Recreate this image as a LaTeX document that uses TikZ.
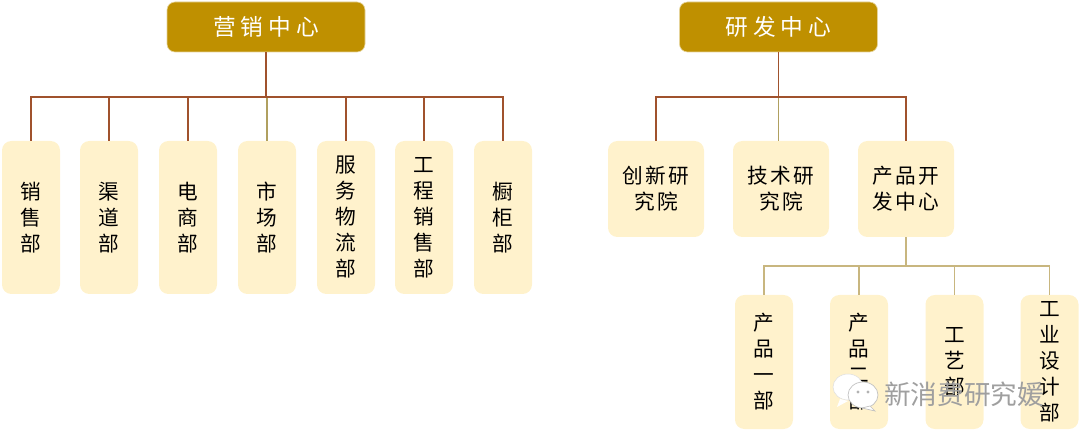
\documentclass[tikz,border=0pt]{standalone}
\usepackage{fontspec}
\newfontfamily\cjk[LetterSpace=12]{Noto Sans CJK SC}
\newfontfamily\cjkwide[LetterSpace=22]{Noto Sans CJK SC}
\newfontfamily\cjkmark{Noto Sans CJK SC}
\definecolor{OrgGold}{RGB}{191,144,0}
\definecolor{OrgCream}{RGB}{255,242,204}
\definecolor{OrgBrown}{RGB}{160,82,45}
\definecolor{OrgOlive}{RGB}{176,160,96}
\definecolor{OrgTan}{RGB}{200,182,127}
\usetikzlibrary{
    positioning,
    calc,
}
\tikzset{
    headbox/.style={fill=OrgGold, draw=OrgGold!40, line width=0.5pt, rounded corners=6pt, minimum width=148.5pt, minimum height=37.5pt, inner sep=0pt, text=white, font=\cjkwide\fontsize{17}{20}\selectfont},
    tallbox/.style={fill=OrgCream, rounded corners=7pt, minimum width=43.5pt, inner sep=0pt, align=center, text=black, font=\cjk\fontsize{15.5}{19.5}\selectfont},
    squarebox/.style={tallbox, minimum width=72pt, minimum height=72pt},
    mainline/.style={OrgBrown, line width=1pt},
    oliveline/.style={OrgOlive, line width=1pt},
    tanline/.style={OrgTan, line width=1pt},
}

\begin{document}
\begin{tikzpicture}[x=0.75pt, y=-0.75pt]
        \useasboundingbox (0,0) rectangle (1080,441);
        % marketing side
        \node[headbox] (mkt) at (266,27) {营销中心};
        \node[tallbox, minimum height=114.75pt] (sales) at (31,217.5) {销\\售\\部};
        \node[tallbox, minimum height=114.75pt] (channel) at (109,217.5) {渠\\道\\部};
        \node[tallbox, minimum height=114.75pt] (online) at (188,217.5) {电\\商\\部};
        \node[tallbox, minimum height=114.75pt] (market) at (267,217.5) {市\\场\\部};
        \node[tallbox, minimum height=114.75pt] (service) at (346,217.5) {服\\务\\物\\流\\部};
        \node[tallbox, minimum height=114.75pt] (project) at (424,217.5) {工\\程\\销\\售\\部};
        \node[tallbox, minimum height=114.75pt] (cabinet) at (503,217.5) {橱\\柜\\部};
        \coordinate (mktbus) at (266,97);
        \draw[oliveline] (mktbus) -| (market.north);
        \draw[mainline] (mkt.south) -- (mktbus);
        \draw[mainline] (mktbus) -| (sales.north);
        \draw[mainline] (mktbus) -| (channel.north);
        \draw[mainline] (mktbus) -| (online.north);
        \draw[mainline] (mktbus) -| (service.north);
        \draw[mainline] (mktbus) -| (project.north);
        \draw[mainline] (mktbus) -| (cabinet.north);
        % research side
        \node[headbox] (rnd) at (778.5,27) {研发中心};
        \node[squarebox] (innov) at (656,189) {创新研\\究院};
        \node[squarebox] (tech) at (781,189) {技术研\\究院};
        \node[squarebox] (prod) at (906,189) {产品开\\发中心};
        \coordinate (rndbus) at (778.5,97);
        \draw[oliveline] (rndbus) -- (tech.north -| rndbus);
        \draw[mainline, line width=1.4pt] (rnd.south) -- (rndbus);
        \draw[mainline] (rndbus) -| (innov.north);
        \draw[mainline] (rndbus) -| (prod.north);
        % product departments
        \node[tallbox, minimum height=100.5pt] (prodone) at (764,362) {产\\品\\一\\部};
        \node[tallbox, minimum height=100.5pt] (prodtwo) at (859,362) {产\\品\\二\\部};
        \node[tallbox, minimum height=100.5pt] (craft) at (954.5,362) {工\\艺\\部};
        \node[tallbox, minimum height=100.5pt] (design) at (1049.5,362) {工\\业\\设\\计\\部};
        \coordinate (prodbus) at (906,266);
        \draw[tanline] (prod.south) -- (prodbus);
        \draw[tanline] (prodbus) -| (prodone.north);
        \draw[tanline] (prodbus) -| (prodtwo.north);
        \draw[tanline] (prodbus) -| (craft.north);
        \draw[tanline] (prodbus) -| (design.north);
        % watermark
        \fill[white, draw=gray!25, line width=0.4pt] (848,387) ellipse (15 and 13);
        \fill[white] (840,399) -- (837,407) -- (848,401) -- cycle;
        \fill[white, draw=gray!50, line width=0.5pt] (863,395) ellipse (15 and 13);
        \fill[white, draw=gray!50, line width=0.5pt] (870,406) -- (875,411) -- (862,408) -- cycle;
        \fill[gray!60] (858,392) circle (1.7);
        \fill[gray!60] (868,392) circle (1.7);
        \node[text=gray!75, font=\cjkmark\fontsize{20}{22}\selectfont, inner sep=0pt] (mark) at (964,394) {新消费研究媛};
    \end{tikzpicture}
\end{document}
